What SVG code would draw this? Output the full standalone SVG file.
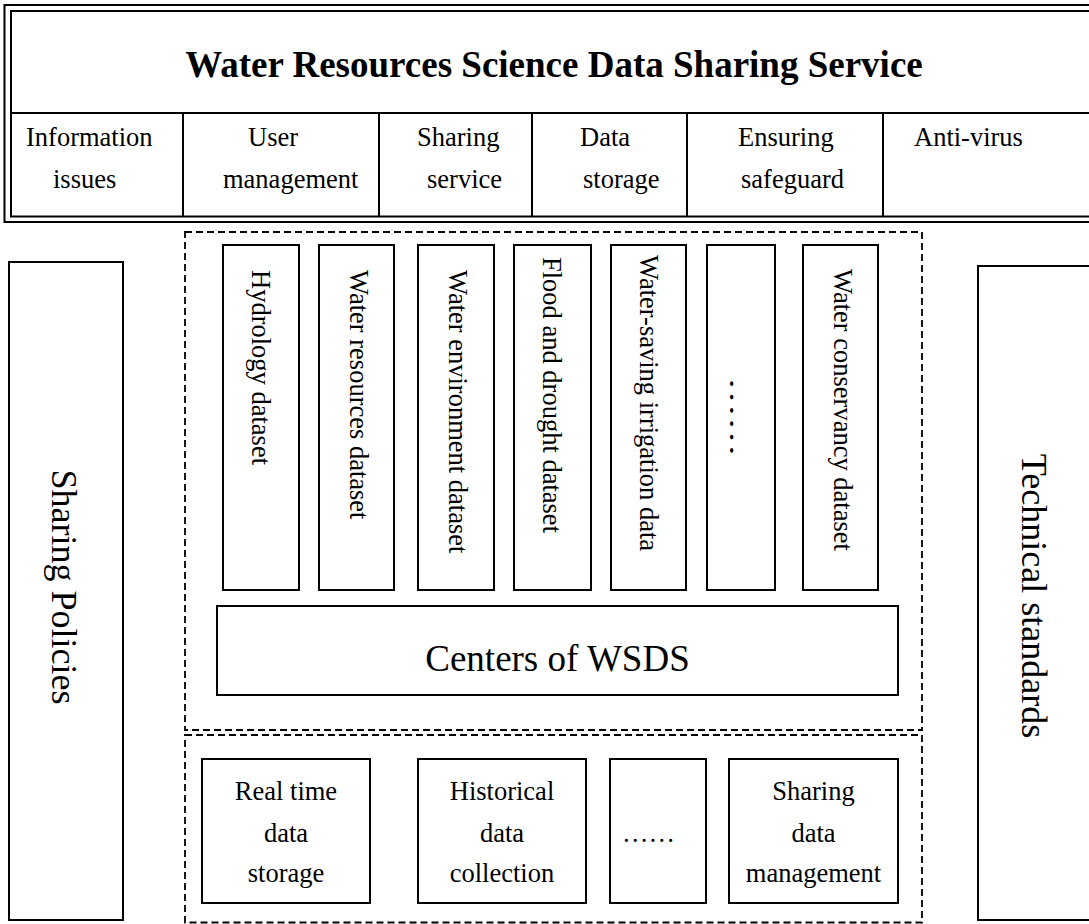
<svg xmlns="http://www.w3.org/2000/svg" width="1089" height="924" viewBox="0 0 1089 924">
<style>
  .bx { fill: #ffffff; stroke: #000000; stroke-width: 2; }
  .ln { stroke: #000000; stroke-width: 2; fill: none; }
  .dash { fill: none; stroke: #000000; stroke-width: 1.8; stroke-dasharray: 7 4; }
  .t { font-family: "Liberation Serif", "Times New Roman", serif; font-size: 26.5px; fill: #000000; }
  .tc { font-family: "Liberation Serif", "Times New Roman", serif; font-size: 26.5px; fill: #000000; text-anchor: middle; }
  .big { font-family: "Liberation Serif", "Times New Roman", serif; font-size: 36px; fill: #000000; text-anchor: middle; }
  .title { font-family: "Liberation Serif", "Times New Roman", serif; font-size: 37px; font-weight: bold; fill: #000000; text-anchor: middle; }
</style>
<rect x="0" y="0" width="1089" height="924" fill="#ffffff"/>

<g id="header">
  <rect x="4.5" y="5" width="1100" height="217" class="ln"/>
  <rect x="11" y="11" width="1100" height="205.5" class="ln"/>
  <line x1="11" y1="113" x2="1089" y2="113" class="ln"/>
  <line x1="183" y1="113" x2="183" y2="216.5" class="ln"/>
  <line x1="379" y1="113" x2="379" y2="216.5" class="ln"/>
  <line x1="532" y1="113" x2="532" y2="216.5" class="ln"/>
  <line x1="687" y1="113" x2="687" y2="216.5" class="ln"/>
  <line x1="883" y1="113" x2="883" y2="216.5" class="ln"/>
  <text x="554" y="77" class="title">Water Resources Science Data Sharing Service</text>
</g>

<g id="cell-information">
  <text x="26" y="146" class="t">Information</text>
  <text x="53" y="188" class="t">issues</text>
</g>
<g id="cell-user">
  <text x="248" y="146" class="t">User</text>
  <text x="223" y="188" class="t">management</text>
</g>
<g id="cell-sharing">
  <text x="417" y="146" class="t">Sharing</text>
  <text x="427" y="188" class="t">service</text>
</g>
<g id="cell-data">
  <text x="580" y="146" class="t">Data</text>
  <text x="583" y="188" class="t">storage</text>
</g>
<g id="cell-ensuring">
  <text x="738" y="146" class="t">Ensuring</text>
  <text x="741" y="188" class="t">safeguard</text>
</g>
<g id="cell-antivirus">
  <text x="914" y="146" class="t">Anti-virus</text>
</g>

<g id="sharing-policies">
  <rect x="9" y="262" width="114" height="658" class="bx"/>
  <text class="big" transform="translate(52,587) rotate(90)">Sharing Policies</text>
</g>

<g id="technical-standards">
  <rect x="978" y="266" width="130" height="654" class="bx"/>
  <text class="big" transform="translate(1022,596) rotate(90)">Technical standards</text>
</g>

<g id="upper-zone">
  <rect x="185" y="232" width="737" height="498" class="dash"/>
</g>
<g id="lower-zone">
  <rect x="185" y="735" width="737" height="187.5" class="dash"/>
</g>

<g id="ds-hydrology">
  <rect x="223" y="245" width="76" height="345" class="bx"/>
  <text class="t" transform="translate(252,270) rotate(90)">Hydrology dataset</text>
</g>
<g id="ds-water-resources">
  <rect x="319" y="245" width="75" height="345" class="bx"/>
  <text class="t" transform="translate(350,270) rotate(90)">Water resources dataset</text>
</g>
<g id="ds-water-environment">
  <rect x="418" y="245" width="76" height="345" class="bx"/>
  <text class="t" transform="translate(449,270) rotate(90)">Water environment dataset</text>
</g>
<g id="ds-flood-drought">
  <rect x="514" y="245" width="77" height="345" class="bx"/>
  <text class="t" transform="translate(543,257) rotate(90)">Flood and drought dataset</text>
</g>
<g id="ds-water-saving">
  <rect x="611" y="245" width="75" height="345" class="bx"/>
  <text class="t" transform="translate(640,255) rotate(90)">Water-saving irrigation data</text>
</g>
<g id="ds-more">
  <rect x="707" y="245" width="68" height="345" class="bx"/>
  <text class="t" transform="translate(729.5,377) rotate(90)" textLength="80" lengthAdjust="spacingAndGlyphs">……</text>
</g>
<g id="ds-water-conservancy">
  <rect x="803" y="245" width="75" height="345" class="bx"/>
  <text class="t" transform="translate(834,269) rotate(90)">Water conservancy dataset</text>
</g>

<g id="centers">
  <rect x="217" y="606" width="681" height="89" class="bx"/>
  <text x="557.5" y="671" class="big" style="font-size:37px">Centers of WSDS</text>
</g>

<g id="real-time">
  <rect x="202" y="759" width="168" height="144" class="bx"/>
  <text x="286" y="800" class="tc">Real time</text>
  <text x="286" y="842" class="tc">data</text>
  <text x="286" y="882" class="tc">storage</text>
</g>
<g id="historical">
  <rect x="418" y="759" width="168" height="144" class="bx"/>
  <text x="502" y="800" class="tc">Historical</text>
  <text x="502" y="842" class="tc">data</text>
  <text x="502" y="882" class="tc">collection</text>
</g>
<g id="more-storage">
  <rect x="610" y="759" width="96" height="144" class="bx"/>
  <text x="622" y="842" class="t">……</text>
</g>
<g id="sharing-data">
  <rect x="729" y="759" width="169" height="144" class="bx"/>
  <text x="813.5" y="800" class="tc">Sharing</text>
  <text x="813.5" y="842" class="tc">data</text>
  <text x="813.5" y="882" class="tc">management</text>
</g>

<g id="connectors"></g>
</svg>
